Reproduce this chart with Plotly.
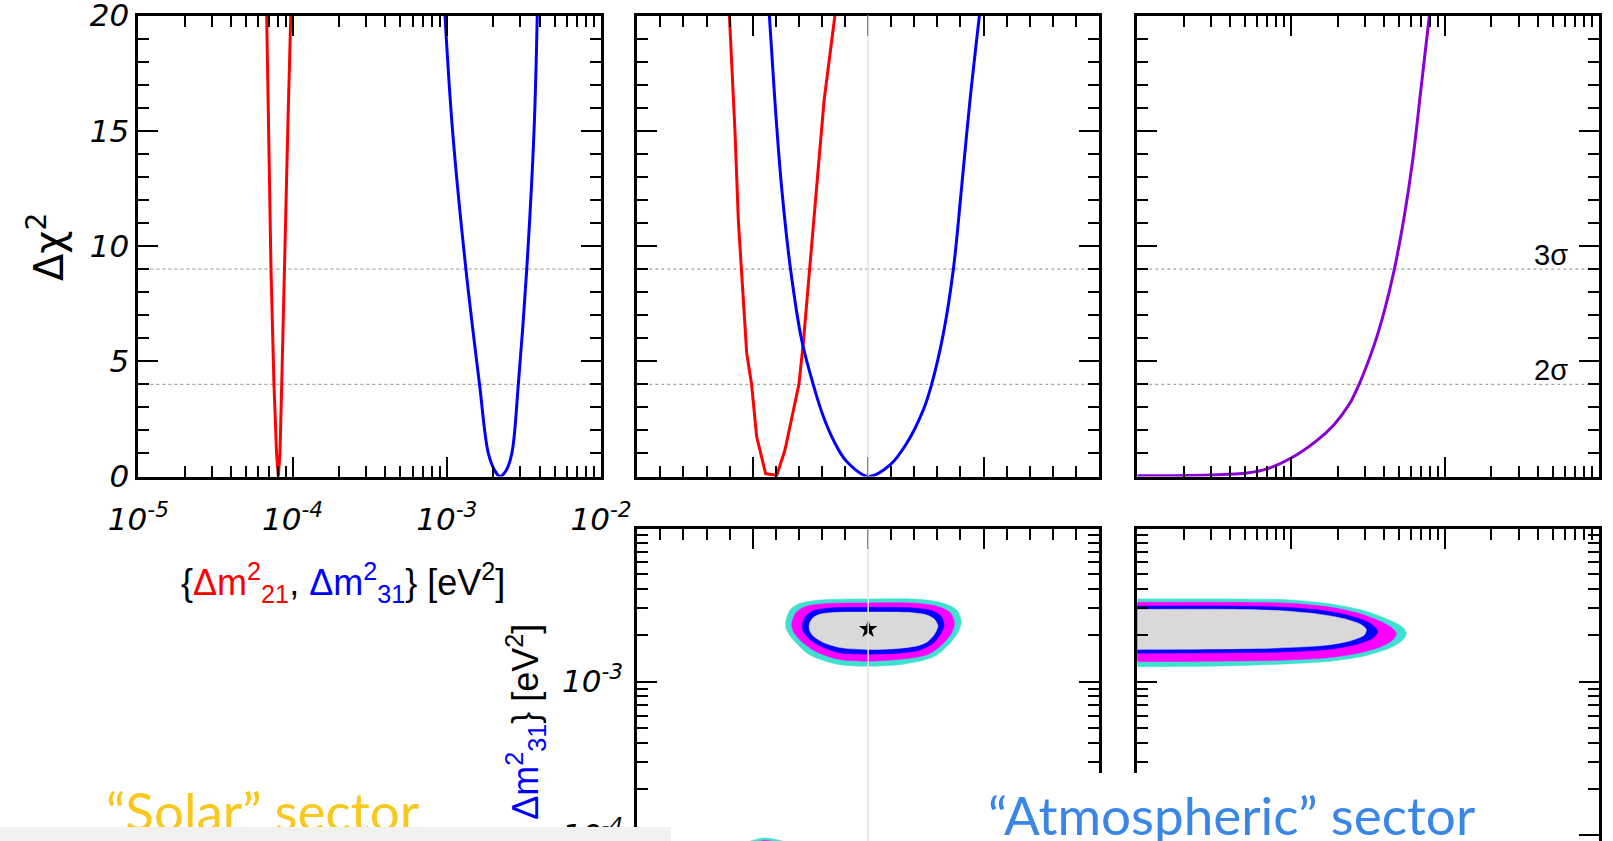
import numpy as np
import plotly.graph_objects as go

W, H = 1613, 841

# ------------------------------------------------------------------ data
# Panel 1: Delta chi^2 profiles versus the mass splittings (log x axis)
dm21_x = [6.79e-5, 7.00e-5, 7.24e-5, 7.57e-5, 7.87e-5, 8.08e-5, 8.28e-5, 8.50e-5, 8.83e-5, 9.30e-5, 9.73e-5]
dm21_chi2 = [20, 15, 9, 4, 1, 0, 1, 4, 9, 15, 20]
dm31_x = [9.73e-4, 1.09e-3, 1.33e-3, 1.63e-3, 1.86e-3, 2.05e-3, 2.21e-3, 2.42e-3, 2.64e-3,
          2.91e-3, 3.30e-3, 3.68e-3, 3.86e-3]
dm31_chi2 = [20, 15, 9, 4, 1, 0.25, 0, 0.25, 1, 4, 9, 15, 20]

dm_tick_vals = [1e-5, 1e-4, 1e-3, 1e-2]
dm_tick_text = ["10<sup>-5</sup>", "10<sup>-4</sup>", "10<sup>-3</sup>", "10<sup>-2</sup>"]
dm31_tick_vals = [1e-4, 1e-3]
dm31_tick_text = ["10<sup>-4</sup>", "10<sup>-3</sup>"]

# Panel 2: profiles versus a linear parameter (no tick labels in the original)
p2_red_x = [3.99, 4.23, 4.38, 4.52, 4.74, 4.95, 5.17, 5.56, 6.04, 6.40, 6.76, 7.00, 7.19, 7.45, 7.77, 8.09, 8.56]
p2_red_chi2 = [20, 15.0, 11.05, 8.98, 5.34, 4.0, 1.73, 0.12, 0.05, 1.16, 2.89, 4.0, 5.78, 8.98, 12.56, 16.3, 20]
p2_blue_x = [5.72, 5.96, 6.25, 6.64, 7.12, 7.62, 8.06, 8.49, 9.07, 10.02, 10.95, 11.67, 12.39, 12.75,
             13.26, 13.69, 14.05, 14.41, 14.82]
p2_blue_chi2 = [20, 16.3, 12.56, 8.98, 5.92, 4.0, 2.6, 1.59, 0.65, 0.0, 0.5, 1.44, 2.89, 4.0,
                6.21, 8.98, 12.56, 16.3, 20]

# Panel 3: profile versus a log parameter
p3_x = [1.0e-3, 2.95e-3, 5.16e-3, 6.97e-3, 1.0e-2, 1.479e-2, 1.897e-2, 2.377e-2, 2.761e-2, 3.459e-2,
        4.018e-2, 4.677e-2, 5.433e-2, 6.152e-2, 6.966e-2, 7.907e-2]
p3_chi2 = [0.03, 0.07, 0.15, 0.33, 0.8, 1.58, 2.25, 3.12, 4.0, 5.7, 7.15, 8.98, 11.3, 13.7, 16.8, 20]

sigma_levels = [4, 9]
sigma_labels = ["2σ", "3σ"]

# Panel 4: allowed regions (3σ, 2σ, 1σ outline, 1σ interior) in the linear parameter vs Δm²31 plane
p4_cyan_x = [6.43, 6.62, 7.05, 7.92, 9.94, 12.25, 13.26, 13.84, 14.03, 13.91, 13.55, 12.83, 11.53, 9.94, 8.64, 7.48, 6.76, 6.47]
p4_cyan_y = [2.46e-3, 2.93e-3, 3.24e-3, 3.41e-3, 3.46e-3, 3.44e-3, 3.24e-3, 2.93e-3, 2.46e-3, 2.12e-3,
             1.78e-3, 1.45e-3, 1.30e-3, 1.26e-3, 1.30e-3, 1.49e-3, 1.87e-3, 2.17e-3]
p4_mag_x = [6.69, 6.88, 7.27, 8.06, 9.94, 12.11, 13.04, 13.55, 13.74, 13.62, 13.26, 12.61, 11.38, 9.94, 8.71, 7.70, 7.05, 6.76]
p4_mag_y = [2.40e-3, 2.82e-3, 3.08e-3, 3.22e-3, 3.26e-3, 3.24e-3, 3.08e-3, 2.82e-3, 2.40e-3, 2.09e-3,
            1.78e-3, 1.51e-3, 1.40e-3, 1.36e-3, 1.40e-3, 1.58e-3, 1.87e-3, 2.12e-3]
p4_blue_x = [7.15, 7.31, 7.63, 8.35, 9.94, 11.96, 12.76, 13.15, 13.29, 13.15, 12.83, 12.25, 11.24, 9.94, 8.78, 7.92, 7.41, 7.19]
p4_blue_y = [2.34e-3, 2.68e-3, 2.90e-3, 3.02e-3, 3.05e-3, 3.02e-3, 2.90e-3, 2.68e-3, 2.34e-3, 2.06e-3,
             1.79e-3, 1.61e-3, 1.53e-3, 1.51e-3, 1.54e-3, 1.71e-3, 1.92e-3, 2.12e-3]
p4_gray_x = [7.44, 7.57, 7.84, 8.49, 9.94, 11.82, 12.54, 12.87, 13.02, 12.89, 12.57, 12.11, 11.17, 9.94, 8.86, 8.06, 7.63, 7.47]
p4_gray_y = [2.32e-3, 2.57e-3, 2.73e-3, 2.82e-3, 2.84e-3, 2.82e-3, 2.72e-3, 2.55e-3, 2.31e-3, 2.06e-3,
             1.82e-3, 1.71e-3, 1.64e-3, 1.62e-3, 1.66e-3, 1.80e-3, 1.98e-3, 2.15e-3]
# solar (Δm²21) region, only its top is visible at the lower edge
p4_sol_cyan_x = [4.3, 4.6, 5.5, 6.5, 7.2, 6.5, 5.5, 4.6]
p4_sol_cyan_y = [7.6e-5, 8.7e-5, 9.55e-5, 8.9e-5, 7.6e-5, 6.4e-5, 6.0e-5, 6.4e-5]
p4_sol_mag_x = [4.5, 4.8, 5.5, 6.3, 7.0, 6.3, 5.5, 4.8]
p4_sol_mag_y = [7.6e-5, 8.5e-5, 9.2e-5, 8.7e-5, 7.6e-5, 6.6e-5, 6.2e-5, 6.6e-5]

bestfit_x = 10.0
bestfit_dm31 = 2.2e-3

# Panel 5: allowed regions in the log parameter vs Δm²31 plane (x given as log10, open to the left)
p5_cyan_lx = [-4.0, -3.0, -2.395, -2.004, -1.743, -1.525, -1.362, -1.275, -1.252, -1.275, -1.352, -1.525,
              -1.743, -2.069, -2.504, -3.0, -4.0]
p5_cyan_y = [3.46e-3, 3.46e-3, 3.46e-3, 3.41e-3, 3.21e-3, 2.90e-3, 2.52e-3, 2.26e-3, 2.06e-3, 1.87e-3, 1.67e-3,
             1.47e-3, 1.36e-3, 1.30e-3, 1.26e-3, 1.25e-3, 1.25e-3]
p5_mag_lx = [-4.0, -3.0, -2.395, -2.004, -1.743, -1.547, -1.395, -1.330, -1.317, -1.341, -1.417, -1.569,
             -1.765, -2.069, -2.504, -3.0, -4.0]
p5_mag_y = [3.29e-3, 3.29e-3, 3.29e-3, 3.24e-3, 3.05e-3, 2.76e-3, 2.40e-3, 2.17e-3, 2.04e-3, 1.87e-3, 1.69e-3,
            1.53e-3, 1.43e-3, 1.38e-3, 1.36e-3, 1.35e-3, 1.35e-3]
p5_blue_lx = [-4.0, -3.0, -2.395, -2.047, -1.786, -1.613, -1.493, -1.443, -1.438, -1.471, -1.569, -1.743,
              -2.069, -2.504, -3.0, -4.0]
p5_blue_y = [3.11e-3, 3.11e-3, 3.11e-3, 3.05e-3, 2.90e-3, 2.68e-3, 2.42e-3, 2.19e-3, 2.09e-3, 1.92e-3, 1.76e-3,
             1.63e-3, 1.56e-3, 1.54e-3, 1.53e-3, 1.53e-3]
p5_gray_lx = [-4.0, -3.0, -2.395, -2.069, -1.830, -1.656, -1.547, -1.512, -1.525, -1.613, -1.765, -2.069,
              -2.504, -3.0, -4.0]
p5_gray_y = [2.96e-3, 2.96e-3, 2.96e-3, 2.90e-3, 2.76e-3, 2.57e-3, 2.36e-3, 2.19e-3, 2.01e-3, 1.85e-3, 1.73e-3,
             1.66e-3, 1.63e-3, 1.62e-3, 1.62e-3]

# ------------------------------------------------------------------ style
RED, BLUE, PURPLE = "#ff0000", "#0000ff", "#8a00d6"
CYAN, MAG, GRAY = "#40e0d0", "#ff00ff", "#d9d9d9"
FONT = "Liberation Sans"

# panel frames in pixels
P1 = (138.4, 601.0)
P2 = (637.3, 1099.0)
P3 = (1137.3, 1599.0)
TOP_Y = (15.5, 476.5)
DECADE_PX = 153.3
BOT_YMAX = -2.005
BOT_TOP = 528.3 + (-2 - BOT_YMAX) * DECADE_PX


def fx(p):
    return p / W


def fy(p):
    return 1 - p / H


def closed(a):
    a = list(a)
    return a + [a[0]]


fig = go.Figure()

# panel 1
fig.add_trace(go.Scatter(x=dm21_x, y=dm21_chi2, mode="lines", line=dict(color=RED, width=3),
                         xaxis="x", yaxis="y"))
fig.add_trace(go.Scatter(x=dm31_x, y=dm31_chi2, mode="lines", line=dict(color=BLUE, width=3, shape="spline"),
                         xaxis="x", yaxis="y"))
# panel 2
fig.add_trace(go.Scatter(x=p2_red_x, y=p2_red_chi2, mode="lines", line=dict(color=RED, width=3),
                         xaxis="x2", yaxis="y2"))
fig.add_trace(go.Scatter(x=p2_blue_x, y=p2_blue_chi2, mode="lines", line=dict(color=BLUE, width=3, shape="spline"),
                         xaxis="x2", yaxis="y2"))
# panel 3
fig.add_trace(go.Scatter(x=p3_x, y=p3_chi2, mode="lines", line=dict(color=PURPLE, width=3, shape="spline"),
                         xaxis="x3", yaxis="y3"))


def region(xs, ys, color, xa, ya, close=True):
    xs = closed(xs) if close else list(xs)
    ys = closed(ys) if close else list(ys)
    fig.add_trace(go.Scatter(x=xs, y=ys, mode="lines", fill="toself", fillcolor=color,
                             line=dict(color=color, width=0.5, shape="spline", smoothing=0.8),
                             xaxis=xa, yaxis=ya, hoverinfo="skip"))


# panel 4
for xs, ys, c in [(p4_cyan_x, p4_cyan_y, CYAN), (p4_mag_x, p4_mag_y, MAG), (p4_blue_x, p4_blue_y, BLUE),
                  (p4_gray_x, p4_gray_y, GRAY), (p4_sol_cyan_x, p4_sol_cyan_y, CYAN),
                  (p4_sol_mag_x, p4_sol_mag_y, MAG)]:
    region(xs, ys, c, "x4", "y4")
fig.add_trace(go.Scatter(x=[bestfit_x], y=[bestfit_dm31], mode="markers",
                         marker=dict(symbol="star", size=14, color="black"), xaxis="x4", yaxis="y4"))
# panel 5
for lxs, ys, c in [(p5_cyan_lx, p5_cyan_y, CYAN), (p5_mag_lx, p5_mag_y, MAG), (p5_blue_lx, p5_blue_y, BLUE),
                   (p5_gray_lx, p5_gray_y, GRAY)]:
    region([10 ** v for v in lxs], ys, c, "x5", "y5", close=False)

# ------------------------------------------------------------------ axes
TICKFONT = dict(family="DejaVu Sans", size=31, color="black", style="italic")


def ax(minor_dtick, **kw):
    d = dict(showline=True, linewidth=3, linecolor="black", mirror="ticks",
             ticks="inside", ticklen=20, tickwidth=2, tickcolor="black",
             showgrid=False, zeroline=False, showticklabels=False, automargin=False,
             ticklabeloverflow="allow",
             minor=dict(ticks="inside", ticklen=11, tickwidth=2, tickcolor="black",
                        showgrid=False, dtick=minor_dtick))
    d.update(kw)
    return d


top_dom = [fy(TOP_Y[1]), fy(TOP_Y[0])]
bot_dom = [0, fy(BOT_TOP)]
bot_range = [BOT_YMAX - (H - BOT_TOP) / DECADE_PX, BOT_YMAX]

fig.update_layout(
    width=W, height=H, margin=dict(l=0, r=0, t=0, b=0, pad=0, autoexpand=False),
    paper_bgcolor="white", plot_bgcolor="white", showlegend=False,
    xaxis=ax("D1", type="log", range=[-5, -2], domain=[fx(P1[0]), fx(P1[1])], anchor="y",
             tickmode="array", tickvals=dm_tick_vals, ticktext=dm_tick_text,
             showticklabels=True, tickfont=TICKFONT, ticklabelstandoff=13),
    yaxis=ax(1, range=[0, 20], dtick=5, domain=top_dom, anchor="x", showticklabels=True,
             tickfont=TICKFONT, ticklabelstandoff=0),
    xaxis2=ax(1, range=[0, 20], dtick=5, domain=[fx(P2[0]), fx(P2[1])], anchor="y2"),
    yaxis2=ax(1, range=[0, 20], dtick=5, domain=top_dom, anchor="x2"),
    xaxis3=ax("D1", type="log", range=[-3, 0], dtick=1, domain=[fx(P3[0]), fx(P3[1])], anchor="y3"),
    yaxis3=ax(1, range=[0, 20], dtick=5, domain=top_dom, anchor="x3"),
    xaxis4=ax(1, range=[0, 20], dtick=5, domain=[fx(P2[0]), fx(P2[1])], anchor="y4", side="top", mirror=False),
    yaxis4=ax("D1", type="log", range=bot_range, domain=bot_dom, anchor="x4",
              tickmode="array", tickvals=dm31_tick_vals, ticktext=dm31_tick_text,
              showticklabels=True, tickfont=TICKFONT, ticklabelstandoff=5),
    xaxis5=ax("D1", type="log", range=[-3, 0], dtick=1, domain=[fx(P3[0]), fx(P3[1])], anchor="y5",
              side="top", mirror=False),
    yaxis5=ax("D1", type="log", range=bot_range, dtick=1, domain=bot_dom, anchor="x5"),
)

# ------------------------------------------------------------------ shapes
shapes = []
for xr, yr in [("x", "y"), ("x2", "y2"), ("x3", "y3")]:
    for lev in sigma_levels:
        shapes.append(dict(type="line", xref=f"{xr} domain", yref=yr, x0=0, x1=1, y0=lev, y1=lev,
                           line=dict(color="#8c8c8c", width=1, dash="dot"), layer="below"))
for xr, yr in [("x2", "y2 domain"), ("x4", "y4 domain")]:
    shapes.append(dict(type="line", xref=xr, yref=yr, x0=bestfit_x, x1=bestfit_x, y0=0, y1=1,
                       line=dict(color="#e3e3e3", width=1.5), layer="above"))
# white cover of the slide text box
shapes.append(dict(type="rect", xref="paper", yref="paper", x0=fx(880), x1=fx(1570), y0=0, y1=fy(773),
                   fillcolor="white", line=dict(width=0), layer="above"))
fig.update_layout(shapes=shapes)

# ------------------------------------------------------------------ annotations
ann = []
ann.append(dict(text="Δχ<sup>2</sup>", x=fx(46), y=fy(247), xref="paper", yref="paper", showarrow=False,
                textangle=-90, font=dict(family="DejaVu Sans", size=40, color="black"),
                xanchor="center", yanchor="middle"))
title_txt = ("{<span style='color:#ff0000'>Δm<sup>2</sup><sub>21</sub></span>, "
             "<span style='color:#0000ff'>Δm<sup>2</sup><sub>31</sub></span>} [eV<sup>2</sup>]")
ann.append(dict(text=title_txt, x=fx(343), y=fy(582), xref="paper", yref="paper", showarrow=False,
                font=dict(family=FONT, size=36, color="black"), xanchor="center", yanchor="middle"))
for lev, lab in zip(sigma_levels, sigma_labels):
    ann.append(dict(text=lab, x=fx(1551), y=lev + 0.6, xref="paper", yref="y3", showarrow=False,
                    font=dict(family=FONT, size=29, color="black"), xanchor="center", yanchor="middle"))
ann.append(dict(text=title_txt, x=fx(525), y=fy(622), xref="paper", yref="paper", showarrow=False,
                textangle=-90, font=dict(family=FONT, size=36, color="black"), xanchor="center", yanchor="top"))
ann.append(dict(text="“Solar” sector", x=fx(104), y=fy(810), xref="paper", yref="paper", showarrow=False,
                font=dict(family="Lato", size=53, color="#f9c81e"), xanchor="left", yanchor="middle"))
ann.append(dict(text="“Atmospheric” sector", x=fx(986), y=fy(814), xref="paper", yref="paper", showarrow=False,
                font=dict(family="Lato", size=53, color="#3a86e6"), xanchor="left", yanchor="middle"))
# light strip of the slide at the lower left
ann.append(dict(text=" ", x=0, y=0, xref="paper", yref="paper", showarrow=False, xanchor="left",
                yanchor="bottom", width=671, height=14, bgcolor="#f1f1f1", borderpad=0, borderwidth=0))
fig.update_layout(annotations=ann)

fig.write_html("out.html")
